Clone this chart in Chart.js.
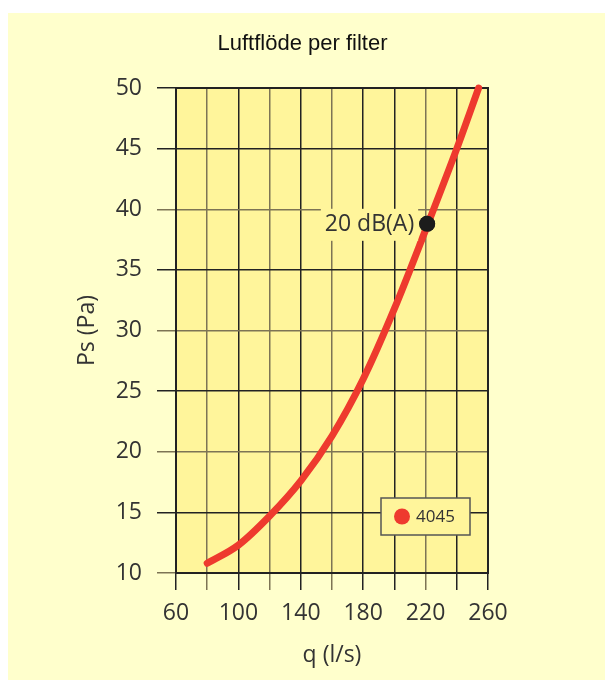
<!DOCTYPE html>
<html>
<head>
<meta charset="utf-8">
<script src="https://cdn.jsdelivr.net/npm/chart.js@4"></script>
<style>
  body { margin: 0; background: #fff; }
  #panel { position: absolute; left: 8px; top: 13px; width: 597px; height: 667px; background: #ffffcc; }
  #myChart { position: absolute; left: 0; top: 0; }
</style>
</head>
<body>
<div id="panel"></div>
<canvas id="myChart" width="605" height="680"></canvas>
<script>
// data
var qValues = [80, 100, 120, 140, 160, 180, 200, 220, 240, 254];
var psValues = [10.8, 12.3, 14.7, 17.6, 21.3, 26.0, 31.8, 38.3, 45.0, 50];
var serieNombre = '4045';
var puntoQ = [221];
var puntoPs = [38.8];
var puntoTexto = '20 dB(A)';
var xTicks = [60, 100, 140, 180, 220, 260];
var yTicks = [10, 15, 20, 25, 30, 35, 40, 45, 50];

var fondoPlot = '#fff59b';
var rojo = '#ee3a2e';
var oscuro = '#222222';
var gris = '#7d7455';
var fuente = '"Open Sans"';

var curva = [];
for (var i = 0; i < qValues.length; i++) {
    curva.push({ x: qValues[i], y: psValues[i] });
}
var punto = [];
for (var i = 0; i < puntoQ.length; i++) {
    punto.push({ x: puntoQ[i], y: puntoPs[i] });
}

// plot background, label box and legend box
var extras = {
    id: 'extras',
    beforeDraw: function(chart) {
        var a = chart.chartArea, c = chart.ctx;
        c.save();
        c.fillStyle = fondoPlot;
        c.fillRect(a.left, a.top, a.right - a.left, a.bottom - a.top);
        c.restore();
    },
    afterDatasetsDraw: function(chart) {
        var c = chart.ctx, a = chart.chartArea;
        var xs = chart.scales.x, ys = chart.scales.y;
        // label of the point
        var px = xs.getPixelForValue(puntoQ[0]);
        var py = ys.getPixelForValue(puntoPs[0]);
        c.save();
        c.font = '23px ' + fuente;
        var w = c.measureText(puntoTexto).width;
        c.fillStyle = fondoPlot;
        c.fillRect(px - 13 - w - 4, py - 15, w + 8, 32);
        c.fillStyle = '#333';
        c.textAlign = 'right';
        c.textBaseline = 'middle';
        c.fillText(puntoTexto, px - 13, py + 1);
        // redraw the point over its box
        c.beginPath();
        c.arc(px, py, 8, 0, Math.PI * 2);
        c.fillStyle = '#1c1c1c';
        c.fill();
        // legend box
        var lx = a.left + 205, ly = a.top + 410;
        c.fillStyle = fondoPlot;
        c.fillRect(lx, ly, 89, 37);
        c.strokeStyle = '#555';
        c.lineWidth = 1.5;
        c.strokeRect(lx, ly, 89, 37);
        c.beginPath();
        c.arc(lx + 21, ly + 18.5, 8, 0, Math.PI * 2);
        c.fillStyle = rojo;
        c.fill();
        c.fillStyle = '#333';
        c.font = '17px ' + fuente;
        c.textAlign = 'left';
        c.fillText(chart.data.datasets[0].label, lx + 35, ly + 19);
        c.restore();
    }
};

var colorV = function(ctx) {
    var v = ctx.tick ? ctx.tick.value : 0;
    return [80, 120, 160, 220].includes(v) ? gris : oscuro;
};
var colorH = function(ctx) {
    var v = ctx.tick ? ctx.tick.value : 0;
    return [10, 20, 30, 40].includes(v) ? gris : oscuro;
};

var ctx = document.getElementById('myChart').getContext('2d');
var myChart = new Chart(ctx, {
    type: 'line',
    data: {
        datasets: [{
            label: serieNombre,
            data: curva,
            borderColor: rojo,
            borderWidth: 7,
            borderCapStyle: 'round',
            pointRadius: 0,
            cubicInterpolationMode: 'monotone',
            clip: false
        }, {
            label: puntoTexto,
            data: punto,
            showLine: false,
            pointRadius: 8,
            pointBackgroundColor: '#1c1c1c',
            pointBorderWidth: 0
        }]
    },
    plugins: [extras],
    options: {
        responsive: false,
        animation: false,
        devicePixelRatio: 1,
        layout: { padding: 0 },
        plugins: {
            legend: { display: false },
            tooltip: { enabled: false },
            title: {
                display: true,
                text: 'Luftflöde per filter',
                color: '#111',
                font: { family: '"Liberation Sans"', size: 22, weight: 'normal', lineHeight: 1.2 },
                padding: { top: 31, bottom: 30.6 }
            }
        },
        scales: {
            x: {
                type: 'linear',
                min: 60,
                max: 260,
                afterBuildTicks: function(s) {
                    var t = [];
                    for (var v = 60; v <= 260; v += 20) t.push({ value: v });
                    s.ticks = t;
                },
                afterFit: function(s) { s.height = 107; },
                ticks: {
                    autoSkip: false,
                    maxRotation: 0,
                    padding: 10,
                    color: '#333',
                    font: { family: fuente, size: 23 },
                    callback: function(v) { return xTicks.includes(v) ? String(v) : ''; }
                },
                grid: { color: colorV, lineWidth: 1.5, tickLength: 17, tickColor: colorV },
                border: { display: true, color: oscuro, width: 2 },
                title: {
                    display: true,
                    text: 'q (l/s)',
                    color: '#333',
                    font: { family: fuente, size: 23 },
                    padding: { top: 0, bottom: 11 }
                }
            },
            y: {
                type: 'linear',
                min: 10,
                max: 50,
                afterBuildTicks: function(s) {
                    s.ticks = yTicks.map(function(v) { return { value: v }; });
                },
                afterFit: function(s) { s.width = 176; },
                ticks: {
                    autoSkip: false,
                    padding: 15,
                    color: '#333',
                    font: { family: fuente, size: 23 }
                },
                grid: { color: colorH, lineWidth: 1.5, tickLength: 19, tickColor: colorH },
                border: { display: true, color: oscuro, width: 2 },
                title: {
                    display: true,
                    text: 'Ps (Pa)',
                    color: '#333',
                    font: { family: fuente, size: 23 },
                    padding: { top: 74, bottom: 0 }
                }
            },
            x2: {
                type: 'linear', position: 'top', min: 60, max: 260, display: true,
                afterFit: function(s) { s.height = 0; },
                ticks: { display: false }, grid: { display: false, drawTicks: false },
                border: { display: true, color: oscuro, width: 2 }
            },
            y2: {
                type: 'linear', position: 'right', min: 10, max: 50, display: true,
                afterFit: function(s) { s.width = 117; },
                ticks: { display: false }, grid: { display: false, drawTicks: false },
                border: { display: true, color: oscuro, width: 2 }
            }
        }
    }
});
</script>
</body>
</html>
